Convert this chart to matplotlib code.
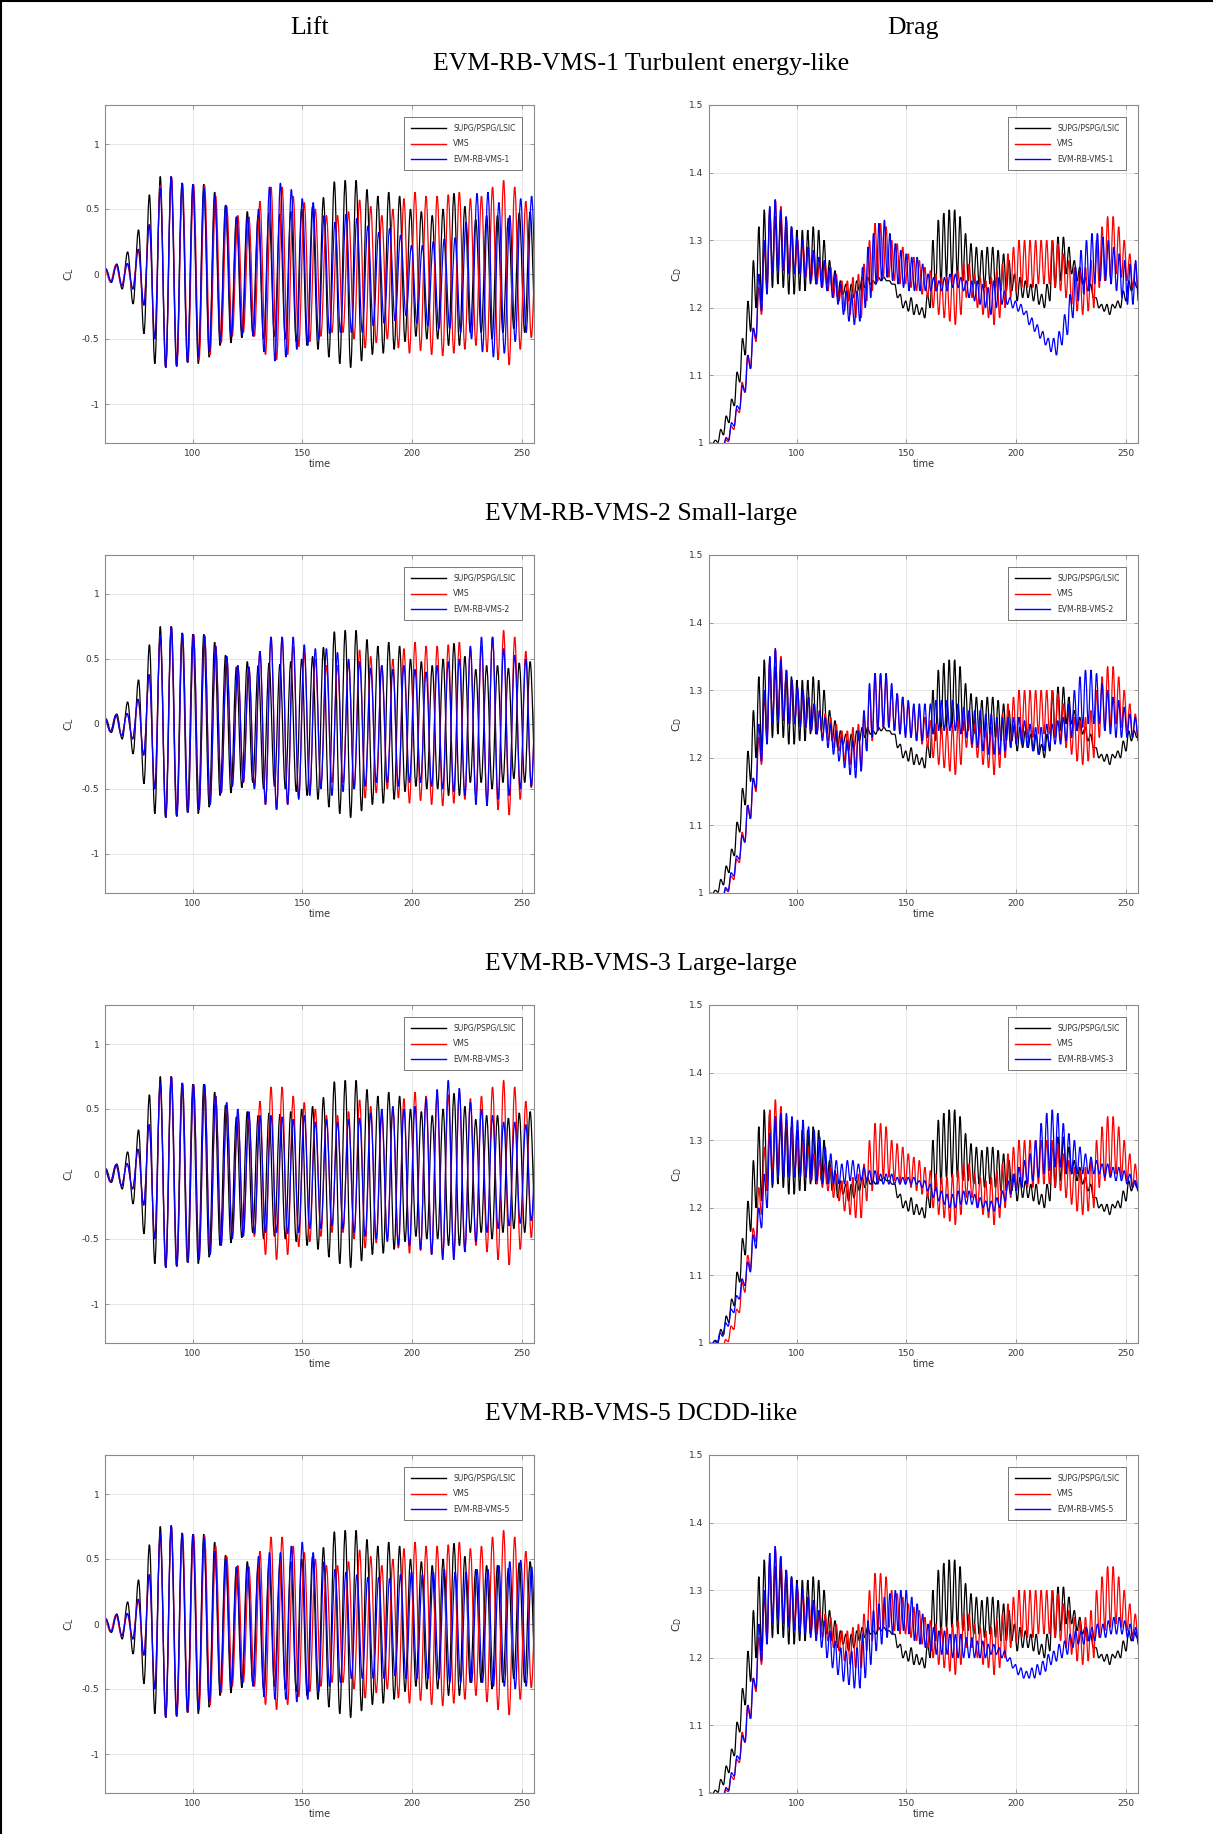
import matplotlib
matplotlib.use('Agg')
import matplotlib.pyplot as plt
from matplotlib.path import Path
from matplotlib.patches import PathPatch
import numpy as np

# ====== data ======
# timing of each run: first lift peak and lift period (drag oscillates twice as fast)
supg_t0, supg_per = 60.4, 4.96
vms_t0, vms_per = 59.95, 5.05
evm1_t0, evm1_per = 60.3, 4.98
evm2_t0, evm2_per = 59.95, 5.05
evm3_t0, evm3_per = 59.95, 5.05
evm5_t0, evm5_per = 60.3, 4.98

# --- lift coefficient C_L: peak / trough of each cycle ---
cl_supg_hi = [0.04, 0.077, 0.17, 0.34, 0.61, 0.75, 0.75, 0.70, 0.69, 0.69,
              0.63, 0.53, 0.44, 0.48, 0.45, 0.47, 0.46, 0.48, 0.50, 0.52,
              0.59, 0.71, 0.72, 0.72, 0.65, 0.60, 0.63, 0.60, 0.50, 0.48,
              0.45, 0.50, 0.62, 0.52, 0.42, 0.45, 0.45, 0.43, 0.47, 0.48]
cl_supg_lo = [-0.065, -0.115, -0.23, -0.46, -0.69, -0.72, -0.71, -0.68, -0.69, -0.64,
              -0.55, -0.53, -0.49, -0.45, -0.50, -0.48, -0.50, -0.52, -0.55, -0.58,
              -0.64, -0.69, -0.72, -0.67, -0.62, -0.61, -0.58, -0.52, -0.48, -0.50,
              -0.50, -0.55, -0.55, -0.45, -0.45, -0.50, -0.45, -0.42, -0.45, -0.40]

cl_vms_hi = [0.04, 0.07, 0.08, 0.19, 0.38, 0.68, 0.75, 0.70, 0.69, 0.68,
             0.60, 0.52, 0.45, 0.44, 0.56, 0.67, 0.67, 0.60, 0.55, 0.50,
             0.45, 0.45, 0.48, 0.57, 0.52, 0.45, 0.50, 0.58, 0.63, 0.60,
             0.60, 0.61, 0.63, 0.58, 0.60, 0.67, 0.72, 0.67, 0.56, 0.50]
cl_vms_lo = [-0.06, -0.09, -0.115, -0.24, -0.50, -0.72, -0.71, -0.68, -0.66, -0.62,
             -0.53, -0.48, -0.45, -0.48, -0.62, -0.66, -0.62, -0.56, -0.52, -0.48,
             -0.45, -0.45, -0.50, -0.57, -0.53, -0.50, -0.57, -0.61, -0.59, -0.62,
             -0.63, -0.61, -0.58, -0.55, -0.60, -0.66, -0.70, -0.58, -0.49, -0.45]

cl_evm1_hi = [0.04, 0.07, 0.08, 0.19, 0.38, 0.66, 0.75, 0.70, 0.69, 0.66,
              0.60, 0.53, 0.44, 0.44, 0.50, 0.67, 0.70, 0.65, 0.58, 0.55,
              0.45, 0.40, 0.46, 0.43, 0.37, 0.32, 0.35, 0.30, 0.22, 0.22,
              0.25, 0.27, 0.28, 0.40, 0.62, 0.63, 0.55, 0.45, 0.58, 0.60]
cl_evm1_lo = [-0.06, -0.09, -0.115, -0.24, -0.50, -0.72, -0.71, -0.68, -0.64, -0.60,
              -0.52, -0.48, -0.47, -0.48, -0.60, -0.67, -0.64, -0.58, -0.55, -0.50,
              -0.46, -0.45, -0.45, -0.45, -0.40, -0.38, -0.36, -0.32, -0.38, -0.40,
              -0.42, -0.42, -0.45, -0.50, -0.60, -0.64, -0.61, -0.52, -0.45, -0.40]

cl_evm2_hi = [0.04, 0.07, 0.08, 0.19, 0.38, 0.68, 0.75, 0.70, 0.69, 0.68,
              0.60, 0.52, 0.45, 0.44, 0.56, 0.67, 0.67, 0.67, 0.61, 0.58,
              0.58, 0.55, 0.50, 0.48, 0.43, 0.45, 0.42, 0.45, 0.42, 0.40,
              0.45, 0.48, 0.50, 0.60, 0.67, 0.67, 0.58, 0.53, 0.50, 0.45]
cl_evm2_lo = [-0.06, -0.09, -0.115, -0.24, -0.50, -0.72, -0.71, -0.68, -0.66, -0.62,
              -0.53, -0.48, -0.45, -0.50, -0.62, -0.66, -0.62, -0.58, -0.55, -0.50,
              -0.55, -0.52, -0.50, -0.48, -0.45, -0.45, -0.48, -0.45, -0.45, -0.48,
              -0.50, -0.52, -0.55, -0.62, -0.63, -0.58, -0.55, -0.50, -0.48, -0.45]

cl_evm3_hi = [0.04, 0.07, 0.08, 0.19, 0.38, 0.70, 0.75, 0.70, 0.69, 0.69,
              0.60, 0.55, 0.50, 0.48, 0.45, 0.45, 0.44, 0.42, 0.45, 0.40,
              0.42, 0.40, 0.42, 0.43, 0.47, 0.50, 0.52, 0.50, 0.52, 0.58,
              0.65, 0.72, 0.66, 0.55, 0.50, 0.45, 0.40, 0.40, 0.38, 0.38]
cl_evm3_lo = [-0.06, -0.09, -0.115, -0.24, -0.50, -0.72, -0.71, -0.68, -0.66, -0.62,
              -0.55, -0.50, -0.48, -0.46, -0.45, -0.45, -0.46, -0.45, -0.42, -0.42,
              -0.40, -0.42, -0.45, -0.48, -0.50, -0.52, -0.55, -0.55, -0.58, -0.62,
              -0.66, -0.66, -0.60, -0.52, -0.45, -0.42, -0.40, -0.38, -0.36, -0.36]

cl_evm5_hi = [0.04, 0.07, 0.08, 0.19, 0.38, 0.70, 0.76, 0.70, 0.69, 0.66,
              0.56, 0.50, 0.44, 0.45, 0.52, 0.55, 0.55, 0.60, 0.63, 0.55,
              0.48, 0.42, 0.40, 0.38, 0.36, 0.36, 0.35, 0.38, 0.40, 0.38,
              0.40, 0.42, 0.40, 0.40, 0.42, 0.42, 0.45, 0.48, 0.49, 0.44]
cl_evm5_lo = [-0.06, -0.09, -0.115, -0.24, -0.50, -0.72, -0.71, -0.68, -0.66, -0.60,
              -0.52, -0.48, -0.45, -0.48, -0.56, -0.58, -0.58, -0.60, -0.58, -0.52,
              -0.48, -0.45, -0.42, -0.42, -0.42, -0.42, -0.40, -0.42, -0.42, -0.42,
              -0.42, -0.45, -0.45, -0.45, -0.45, -0.48, -0.48, -0.50, -0.48, -0.45]

# --- drag coefficient C_D: peak / trough of each drag cycle ---
cd_supg_hi = [1.0, 1.004, 1.02, 1.04, 1.065, 1.105, 1.155, 1.21, 1.27, 1.32,
              1.345, 1.34, 1.335, 1.33, 1.325, 1.32, 1.315, 1.315, 1.315, 1.32,
              1.315, 1.30, 1.27, 1.255, 1.24, 1.235, 1.235, 1.24, 1.245, 1.245,
              1.24, 1.245, 1.245, 1.24, 1.235, 1.22, 1.21, 1.215, 1.205, 1.20,
              1.22, 1.30, 1.33, 1.34, 1.345, 1.345, 1.335, 1.31, 1.295, 1.29,
              1.285, 1.29, 1.29, 1.285, 1.28, 1.27, 1.25, 1.245, 1.24, 1.235,
              1.235, 1.22, 1.235, 1.30, 1.305, 1.305, 1.29, 1.27, 1.26, 1.245,
              1.235, 1.215, 1.205, 1.205, 1.205, 1.21, 1.225, 1.24, 1.24, 1.235]
cd_supg_lo = [0.999, 1.001, 1.012, 1.03, 1.055, 1.09, 1.13, 1.165, 1.20, 1.21,
              1.23, 1.23, 1.235, 1.23, 1.22, 1.22, 1.225, 1.225, 1.235, 1.235,
              1.24, 1.235, 1.225, 1.215, 1.22, 1.21, 1.215, 1.225, 1.23, 1.235,
              1.235, 1.24, 1.24, 1.235, 1.215, 1.20, 1.195, 1.19, 1.19, 1.185,
              1.20, 1.225, 1.235, 1.245, 1.245, 1.245, 1.24, 1.24, 1.235, 1.235,
              1.23, 1.235, 1.23, 1.225, 1.225, 1.225, 1.21, 1.215, 1.215, 1.21,
              1.205, 1.20, 1.21, 1.23, 1.24, 1.25, 1.25, 1.24, 1.235, 1.225,
              1.215, 1.20, 1.195, 1.19, 1.20, 1.20, 1.21, 1.225, 1.23, 1.225]

cd_vms_hi = [0.98, 0.985, 0.995, 1.005, 1.025, 1.05, 1.09, 1.13, 1.17, 1.23,
             1.29, 1.345, 1.36, 1.35, 1.33, 1.315, 1.30, 1.295, 1.29, 1.28,
             1.27, 1.265, 1.26, 1.25, 1.24, 1.24, 1.245, 1.25, 1.265, 1.30,
             1.325, 1.325, 1.32, 1.30, 1.295, 1.29, 1.28, 1.275, 1.27, 1.26,
             1.255, 1.25, 1.245, 1.245, 1.25, 1.255, 1.265, 1.265, 1.25, 1.245,
             1.24, 1.245, 1.255, 1.265, 1.28, 1.29, 1.30, 1.30, 1.30, 1.30,
             1.30, 1.30, 1.30, 1.295, 1.28, 1.27, 1.26, 1.255, 1.26, 1.27,
             1.30, 1.32, 1.335, 1.335, 1.32, 1.30, 1.28, 1.265, 1.25]
cd_vms_lo = [0.975, 0.982, 0.99, 1.002, 1.02, 1.045, 1.075, 1.11, 1.15, 1.19,
             1.225, 1.25, 1.26, 1.255, 1.25, 1.25, 1.25, 1.245, 1.24, 1.235,
             1.23, 1.225, 1.215, 1.21, 1.195, 1.19, 1.185, 1.185, 1.21, 1.225,
             1.24, 1.245, 1.245, 1.24, 1.235, 1.235, 1.23, 1.225, 1.22, 1.215,
             1.20, 1.19, 1.185, 1.18, 1.175, 1.19, 1.215, 1.215, 1.20, 1.19,
             1.185, 1.175, 1.185, 1.20, 1.215, 1.225, 1.23, 1.23, 1.23, 1.235,
             1.235, 1.235, 1.23, 1.225, 1.215, 1.205, 1.195, 1.19, 1.195, 1.20,
             1.23, 1.24, 1.245, 1.25, 1.245, 1.24, 1.23, 1.225, 1.22]

cd_evm1_hi = [0.98, 0.985, 0.995, 1.008, 1.03, 1.055, 1.085, 1.13, 1.17, 1.25,
              1.30, 1.35, 1.36, 1.345, 1.335, 1.32, 1.305, 1.30, 1.29, 1.285,
              1.275, 1.27, 1.26, 1.25, 1.235, 1.225, 1.22, 1.225, 1.26, 1.29,
              1.31, 1.325, 1.33, 1.31, 1.295, 1.285, 1.28, 1.275, 1.275, 1.265,
              1.25, 1.245, 1.24, 1.245, 1.25, 1.25, 1.245, 1.24, 1.24, 1.24,
              1.235, 1.23, 1.24, 1.245, 1.225, 1.215, 1.21, 1.205, 1.195, 1.185,
              1.175, 1.165, 1.155, 1.155, 1.165, 1.19, 1.22, 1.26, 1.285, 1.30,
              1.31, 1.31, 1.305, 1.30, 1.29, 1.28, 1.27, 1.265, 1.27, 1.27]
cd_evm1_lo = [0.975, 0.982, 0.99, 1.004, 1.025, 1.05, 1.075, 1.11, 1.155, 1.195,
              1.22, 1.25, 1.255, 1.255, 1.25, 1.25, 1.25, 1.245, 1.24, 1.235,
              1.23, 1.225, 1.215, 1.205, 1.19, 1.18, 1.175, 1.18, 1.20, 1.215,
              1.235, 1.24, 1.245, 1.24, 1.235, 1.23, 1.225, 1.225, 1.225, 1.225,
              1.225, 1.225, 1.225, 1.225, 1.23, 1.23, 1.225, 1.215, 1.21, 1.205,
              1.20, 1.19, 1.20, 1.205, 1.205, 1.20, 1.195, 1.19, 1.175, 1.165,
              1.155, 1.145, 1.135, 1.13, 1.145, 1.16, 1.185, 1.21, 1.22, 1.225,
              1.235, 1.24, 1.24, 1.235, 1.225, 1.215, 1.205, 1.205, 1.21, 1.215]

cd_evm2_hi = [0.98, 0.985, 0.995, 1.008, 1.03, 1.055, 1.085, 1.13, 1.17, 1.25,
              1.30, 1.35, 1.362, 1.345, 1.33, 1.315, 1.305, 1.30, 1.29, 1.28,
              1.27, 1.26, 1.25, 1.24, 1.23, 1.225, 1.225, 1.24, 1.27, 1.31,
              1.325, 1.325, 1.325, 1.31, 1.295, 1.29, 1.285, 1.28, 1.28, 1.28,
              1.28, 1.285, 1.285, 1.285, 1.285, 1.28, 1.275, 1.27, 1.27, 1.27,
              1.265, 1.265, 1.26, 1.26, 1.26, 1.26, 1.26, 1.255, 1.25, 1.245,
              1.245, 1.25, 1.25, 1.255, 1.26, 1.28, 1.30, 1.32, 1.33, 1.33,
              1.325, 1.31, 1.30, 1.29, 1.285, 1.275, 1.265, 1.26, 1.255]
cd_evm2_lo = [0.975, 0.982, 0.99, 1.004, 1.025, 1.05, 1.075, 1.11, 1.155, 1.195,
              1.22, 1.25, 1.255, 1.255, 1.25, 1.25, 1.245, 1.245, 1.24, 1.235,
              1.225, 1.215, 1.205, 1.195, 1.185, 1.175, 1.17, 1.18, 1.21, 1.23,
              1.24, 1.245, 1.245, 1.24, 1.235, 1.23, 1.23, 1.225, 1.225, 1.23,
              1.235, 1.24, 1.24, 1.24, 1.24, 1.235, 1.23, 1.22, 1.215, 1.21,
              1.205, 1.205, 1.205, 1.21, 1.215, 1.22, 1.22, 1.215, 1.21, 1.205,
              1.21, 1.215, 1.22, 1.22, 1.225, 1.23, 1.24, 1.245, 1.25, 1.25,
              1.25, 1.24, 1.235, 1.23, 1.23, 1.23, 1.23, 1.23, 1.23]

cd_evm3_hi = [1.0, 1.003, 1.015, 1.03, 1.05, 1.07, 1.095, 1.12, 1.16, 1.20,
              1.25, 1.31, 1.335, 1.34, 1.34, 1.335, 1.33, 1.33, 1.32, 1.315,
              1.305, 1.29, 1.28, 1.27, 1.265, 1.27, 1.27, 1.265, 1.26, 1.255,
              1.255, 1.25, 1.25, 1.25, 1.245, 1.245, 1.245, 1.245, 1.24, 1.24,
              1.235, 1.23, 1.225, 1.22, 1.22, 1.225, 1.225, 1.225, 1.22, 1.215,
              1.21, 1.21, 1.215, 1.225, 1.24, 1.25, 1.26, 1.27, 1.28, 1.30,
              1.325, 1.34, 1.345, 1.34, 1.325, 1.31, 1.30, 1.29, 1.28, 1.275,
              1.27, 1.265, 1.265, 1.26, 1.26, 1.255, 1.25, 1.24, 1.235]
cd_evm3_lo = [0.998, 1.0, 1.01, 1.025, 1.045, 1.065, 1.085, 1.105, 1.14, 1.17,
              1.20, 1.235, 1.245, 1.245, 1.245, 1.245, 1.245, 1.245, 1.24, 1.24,
              1.235, 1.235, 1.235, 1.235, 1.235, 1.24, 1.24, 1.24, 1.24, 1.235,
              1.235, 1.235, 1.235, 1.235, 1.235, 1.235, 1.235, 1.235, 1.23, 1.225,
              1.215, 1.21, 1.205, 1.20, 1.20, 1.205, 1.205, 1.205, 1.20, 1.20,
              1.195, 1.195, 1.20, 1.21, 1.22, 1.225, 1.23, 1.235, 1.24, 1.245,
              1.25, 1.255, 1.26, 1.26, 1.255, 1.25, 1.25, 1.25, 1.25, 1.25,
              1.25, 1.245, 1.245, 1.24, 1.24, 1.235, 1.23, 1.225, 1.22]

cd_evm5_hi = [0.98, 0.985, 0.995, 1.008, 1.03, 1.055, 1.085, 1.13, 1.17, 1.25,
              1.30, 1.355, 1.365, 1.35, 1.33, 1.32, 1.31, 1.30, 1.29, 1.285,
              1.27, 1.255, 1.24, 1.225, 1.215, 1.21, 1.21, 1.215, 1.235, 1.255,
              1.27, 1.28, 1.29, 1.295, 1.30, 1.30, 1.30, 1.29, 1.28, 1.265,
              1.25, 1.245, 1.24, 1.24, 1.235, 1.235, 1.235, 1.23, 1.23, 1.225,
              1.225, 1.22, 1.22, 1.215, 1.21, 1.20, 1.19, 1.185, 1.18, 1.185,
              1.19, 1.195, 1.205, 1.21, 1.22, 1.225, 1.235, 1.24, 1.24, 1.245,
              1.245, 1.25, 1.25, 1.255, 1.26, 1.26, 1.255, 1.25, 1.245, 1.24]
cd_evm5_lo = [0.975, 0.982, 0.99, 1.004, 1.025, 1.05, 1.075, 1.11, 1.155, 1.195,
              1.22, 1.25, 1.255, 1.25, 1.245, 1.24, 1.235, 1.235, 1.23, 1.225,
              1.215, 1.20, 1.185, 1.175, 1.165, 1.16, 1.155, 1.155, 1.17, 1.19,
              1.21, 1.22, 1.23, 1.235, 1.24, 1.24, 1.235, 1.225, 1.22, 1.215,
              1.21, 1.205, 1.205, 1.205, 1.20, 1.20, 1.20, 1.20, 1.20, 1.20,
              1.20, 1.205, 1.205, 1.20, 1.195, 1.185, 1.175, 1.17, 1.17, 1.17,
              1.175, 1.18, 1.19, 1.195, 1.20, 1.205, 1.215, 1.22, 1.22, 1.225,
              1.225, 1.23, 1.23, 1.235, 1.235, 1.235, 1.23, 1.225, 1.22, 1.22]

row_titles = ['EVM-RB-VMS-1 Turbulent energy-like', 'EVM-RB-VMS-2 Small-large',
              'EVM-RB-VMS-3 Large-large', 'EVM-RB-VMS-5 DCDD-like']
evm_names = ['EVM-RB-VMS-1', 'EVM-RB-VMS-2', 'EVM-RB-VMS-3', 'EVM-RB-VMS-5']

cl_evm = [(evm1_t0, evm1_per, cl_evm1_hi, cl_evm1_lo),
          (evm2_t0, evm2_per, cl_evm2_hi, cl_evm2_lo),
          (evm3_t0, evm3_per, cl_evm3_hi, cl_evm3_lo),
          (evm5_t0, evm5_per, cl_evm5_hi, cl_evm5_lo)]
cd_evm = [(evm1_t0, evm1_per / 2, cd_evm1_hi, cd_evm1_lo),
          (evm2_t0, evm2_per / 2, cd_evm2_hi, cd_evm2_lo),
          (evm3_t0, evm3_per / 2, cd_evm3_hi, cd_evm3_lo),
          (evm5_t0, evm5_per / 2, cd_evm5_hi, cd_evm5_lo)]


def extrema(t0, per, hi, lo):
    # peaks at the start of each cycle, troughs half a cycle later
    t = t0 + per * np.arange(len(hi))
    tt = np.column_stack([t, t + per / 2]).ravel()
    yy = np.column_stack([hi, lo]).ravel()
    return tt, yy


def add_wave(ax, t0, per, hi, lo, color, label):
    # smooth curve through the peaks/troughs (horizontal tangent at each extremum)
    tt, yy = extrema(t0, per, hi, lo)
    a = 0.364
    verts = [(tt[0], yy[0])]
    codes = [Path.MOVETO]
    for k in range(1, len(tt)):
        dt = tt[k] - tt[k - 1]
        verts += [(tt[k - 1] + a * dt, yy[k - 1]), (tt[k] - a * dt, yy[k]), (tt[k], yy[k])]
        codes += [Path.CURVE4] * 3
    ax.add_patch(PathPatch(Path(verts, codes), fill=False, edgecolor=color,
                           lw=0.9, zorder=2))
    ax.plot([], [], color=color, lw=1.0, label=label)


# ====== figure ======
W, H = 1213, 1834
fig = plt.figure(figsize=(W / 100, H / 100), dpi=100)
serif = 'Liberation Serif'


def style_axes(ax, ylim, yticks, ylabels, ylab):
    ax.set_xlim(60, 255.6)
    ax.set_ylim(*ylim)
    ax.set_xticks([100, 150, 200, 250])
    ax.set_yticks(yticks)
    ax.set_yticklabels(ylabels)
    ax.grid(True, color='#e3e3e3', lw=0.6)
    ax.set_axisbelow(True)
    ax.tick_params(direction='in', length=3, width=0.6, top=True, right=True,
                   labelsize=6.5, colors='#8a8a8a', labelcolor='#333333', pad=4)
    for sp in ax.spines.values():
        sp.set_color('#8a8a8a')
        sp.set_linewidth(0.8)
    ax.set_xlabel('time', fontsize=7, color='#333333', labelpad=1)
    ax.set_ylabel(ylab, fontsize=8, color='#333333', labelpad=4)


tops = [105, 555, 1005, 1455]
ah = 338
lift_x, drag_x, aw = 105, 709, 429

for r in range(4):
    bottom = 1 - (tops[r] + ah) / H
    axl = fig.add_axes([lift_x / W, bottom, aw / W, ah / H])
    axd = fig.add_axes([drag_x / W, bottom, aw / W, ah / H])

    # lift
    add_wave(axl, supg_t0, supg_per, cl_supg_hi, cl_supg_lo, 'k', 'SUPG/PSPG/LSIC')
    add_wave(axl, vms_t0, vms_per, cl_vms_hi, cl_vms_lo, 'r', 'VMS')
    add_wave(axl, *cl_evm[r], 'b', evm_names[r])
    style_axes(axl, (-1.3, 1.3), [-1, -0.5, 0, 0.5, 1],
               ['-1', '-0.5', '0', '0.5', '1'], r'$\mathregular{C_L}$')

    # drag
    add_wave(axd, supg_t0, supg_per / 2, cd_supg_hi, cd_supg_lo, 'k', 'SUPG/PSPG/LSIC')
    add_wave(axd, vms_t0, vms_per / 2, cd_vms_hi, cd_vms_lo, 'r', 'VMS')
    add_wave(axd, *cd_evm[r], 'b', evm_names[r])
    style_axes(axd, (1.0, 1.5), [1, 1.1, 1.2, 1.3, 1.4, 1.5],
               ['1', '1.1', '1.2', '1.3', '1.4', '1.5'], r'$\mathregular{C_D}$')

    for ax in (axl, axd):
        leg = ax.legend(loc='upper right', fontsize=5.5, frameon=True, fancybox=False,
                        borderaxespad=1.6, handlelength=4.6, labelspacing=0.9,
                        borderpad=0.8, handletextpad=1.0)
        leg.get_frame().set_edgecolor('#555555')
        leg.get_frame().set_linewidth(0.7)
        for txt in leg.get_texts():
            txt.set_color('#333333')

    fig.text(641 / W, 1 - (tops[r] - 41) / H, row_titles[r], ha='center', va='center',
             family=serif, fontsize=18.5)

fig.text(310 / W, 1 - 28 / H, 'Lift', ha='center', va='center', family=serif, fontsize=18.5)
fig.text(913 / W, 1 - 28 / H, 'Drag', ha='center', va='center', family=serif, fontsize=18.5)

# table-like border on the top and left
fig.add_artist(plt.Line2D([0, 1], [1 - 1 / H, 1 - 1 / H], transform=fig.transFigure,
                          color='k', lw=1.5))
fig.add_artist(plt.Line2D([1 / W, 1 / W], [0, 1], transform=fig.transFigure,
                          color='k', lw=1.5))

fig.savefig('out.png', dpi=100)
